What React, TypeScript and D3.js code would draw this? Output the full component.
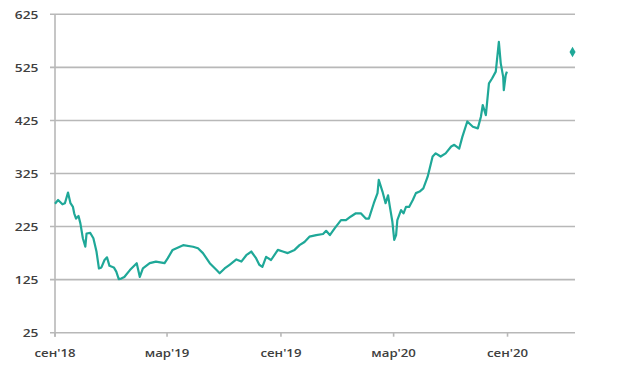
import React from "react";
import * as d3 from "d3";

const dates: string[] = [
  "2018-09-01","2018-09-06","2018-09-13","2018-09-17","2018-09-22","2018-09-26","2018-09-30",
  "2018-10-02","2018-10-05","2018-10-09","2018-10-12","2018-10-16","2018-10-20","2018-10-22","2018-10-28",
  "2018-11-02","2018-11-04","2018-11-07","2018-11-11","2018-11-15","2018-11-20","2018-11-24","2018-11-28",
  "2018-12-05","2018-12-09","2018-12-13","2018-12-17","2018-12-22","2018-12-31",
  "2019-01-11","2019-01-16","2019-01-21","2019-02-01","2019-02-11","2019-02-25",
  "2019-03-02","2019-03-10","2019-03-27","2019-04-12","2019-04-20","2019-04-28",
  "2019-05-09","2019-05-20","2019-05-25","2019-06-02","2019-06-10","2019-06-21","2019-06-29",
  "2019-07-07","2019-07-15","2019-07-23","2019-07-28","2019-08-02","2019-08-08","2019-08-16","2019-08-27",
  "2019-09-04","2019-09-12","2019-09-23","2019-10-01","2019-10-09","2019-10-17","2019-10-28",
  "2019-11-08","2019-11-13","2019-11-19","2019-11-27","2019-12-07","2019-12-15","2019-12-23","2019-12-31",
  "2020-01-08","2020-01-16","2020-01-21","2020-01-29","2020-02-04","2020-02-06","2020-02-12","2020-02-17",
  "2020-02-21","2020-02-24","2020-02-28","2020-03-02","2020-03-05","2020-03-07","2020-03-13","2020-03-17",
  "2020-03-21","2020-03-26","2020-04-01","2020-04-06","2020-04-12","2020-04-18","2020-04-25",
  "2020-05-03","2020-05-08","2020-05-16","2020-05-24","2020-06-02","2020-06-07","2020-06-15","2020-06-20",
  "2020-06-28","2020-07-07","2020-07-15","2020-07-20","2020-07-23","2020-07-28",
  "2020-08-02","2020-08-07","2020-08-13","2020-08-15","2020-08-18","2020-08-21","2020-08-25","2020-08-26",
  "2020-08-29","2020-08-31",
];

const prices: number[] = [
  268, 275, 267, 269, 289, 269, 262,
  250, 240, 245, 231, 203, 187, 212, 213,
  203, 193, 178, 146, 148, 162, 167, 151,
  148, 140, 126, 127, 130, 143,
  156, 130, 146, 156, 159, 156,
  165, 181, 190, 187, 184, 175,
  156, 143, 137, 146, 153, 163, 159,
  171, 178, 165, 153, 149, 168, 162, 181,
  178, 175, 181, 190, 196, 206, 209,
  211, 217, 209, 222, 237, 237, 244, 250,
  250, 240, 240, 269, 288, 313, 291, 269,
  284, 262, 234, 200, 209, 237, 256, 250,
  262, 262, 275, 288, 291, 297, 319,
  357, 363, 357, 363, 376, 379, 372, 394,
  423, 413, 410, 432, 454, 435,
  495, 504, 517, 539, 573, 533, 507, 482,
  510, 517,
];

const targetDate = "2020-12-15";
const targetValue = 554;

const yTicks: number[] = [25, 125, 225, 325, 425, 525, 625];
const xTickDates: string[] = ["2018-09-01", "2019-03-01", "2019-09-01", "2020-03-01", "2020-09-01"];
const xTickLabels: string[] = ["сен'18", "мар'19", "сен'19", "мар'20", "сен'20"];

const W = 620;
const H = 367;
const LEFT = 55;
const RIGHT = 575;
const TOP = 14.3;
const BOTTOM = 332.7;

const parse = d3.timeParse("%Y-%m-%d");

export default function App() {
  const x = d3
    .scaleTime()
    .domain([parse("2018-09-01")!, parse("2020-12-19")!])
    .range([LEFT, RIGHT]);
  const y = d3.scaleLinear().domain([25, 625]).range([BOTTOM, TOP]);

  const data = dates.map((d, i) => ({ date: parse(d)!, value: prices[i] }));
  const line = d3
    .line<{ date: Date; value: number }>()
    .x((d) => x(d.date))
    .y((d) => y(d.value))
    .curve(d3.curveLinear);

  const diamond = d3.symbol().type(d3.symbolDiamond).size(32)();
  const gridColor = "#b8b8b8";
  const textColor = "#404040";
  const font = "'Open Sans', 'Noto Sans', sans-serif";

  return (
    <svg
      width={W}
      height={H}
      style={{ position: "absolute", left: 0, top: 0, background: "#fff" }}
    >
      {yTicks.map((t) => (
        <g key={t}>
          <line
            x1={LEFT - 5}
            x2={RIGHT}
            y1={y(t)}
            y2={y(t)}
            stroke={gridColor}
            strokeWidth={1.6}
          />
          <text
            transform={`translate(38.5,${y(t)}) scale(1.2,1)`}
            textAnchor="end"
            dominantBaseline="central"
            fontFamily={font}
            fontSize={11.5}
            fontWeight={600}
            fill={textColor}
          >
            {t}
          </text>
        </g>
      ))}
      <line x1={LEFT} x2={LEFT} y1={TOP} y2={BOTTOM + 4} stroke={gridColor} strokeWidth={1.6} />
      {xTickDates.map((d, i) => {
        const px = x(parse(d)!);
        return (
          <g key={d}>
            <line x1={px} x2={px} y1={BOTTOM} y2={BOTTOM + 4} stroke={gridColor} strokeWidth={1.6} />
            <text
              transform={`translate(${px},${BOTTOM + 24}) scale(1.15,1)`}
              textAnchor="middle"
              fontFamily={font}
              fontSize={11.5}
              fontWeight={600}
              fill={textColor}
            >
              {xTickLabels[i]}
            </text>
          </g>
        );
      })}
      <path d={line(data) || ""} fill="none" stroke="#1fa898" strokeWidth={2.2} strokeLinejoin="round" />
      <path
        d={diamond || ""}
        transform={`translate(${x(parse(targetDate)!)},${y(targetValue)})`}
        fill="#1fa898"
      />
    </svg>
  );
}
